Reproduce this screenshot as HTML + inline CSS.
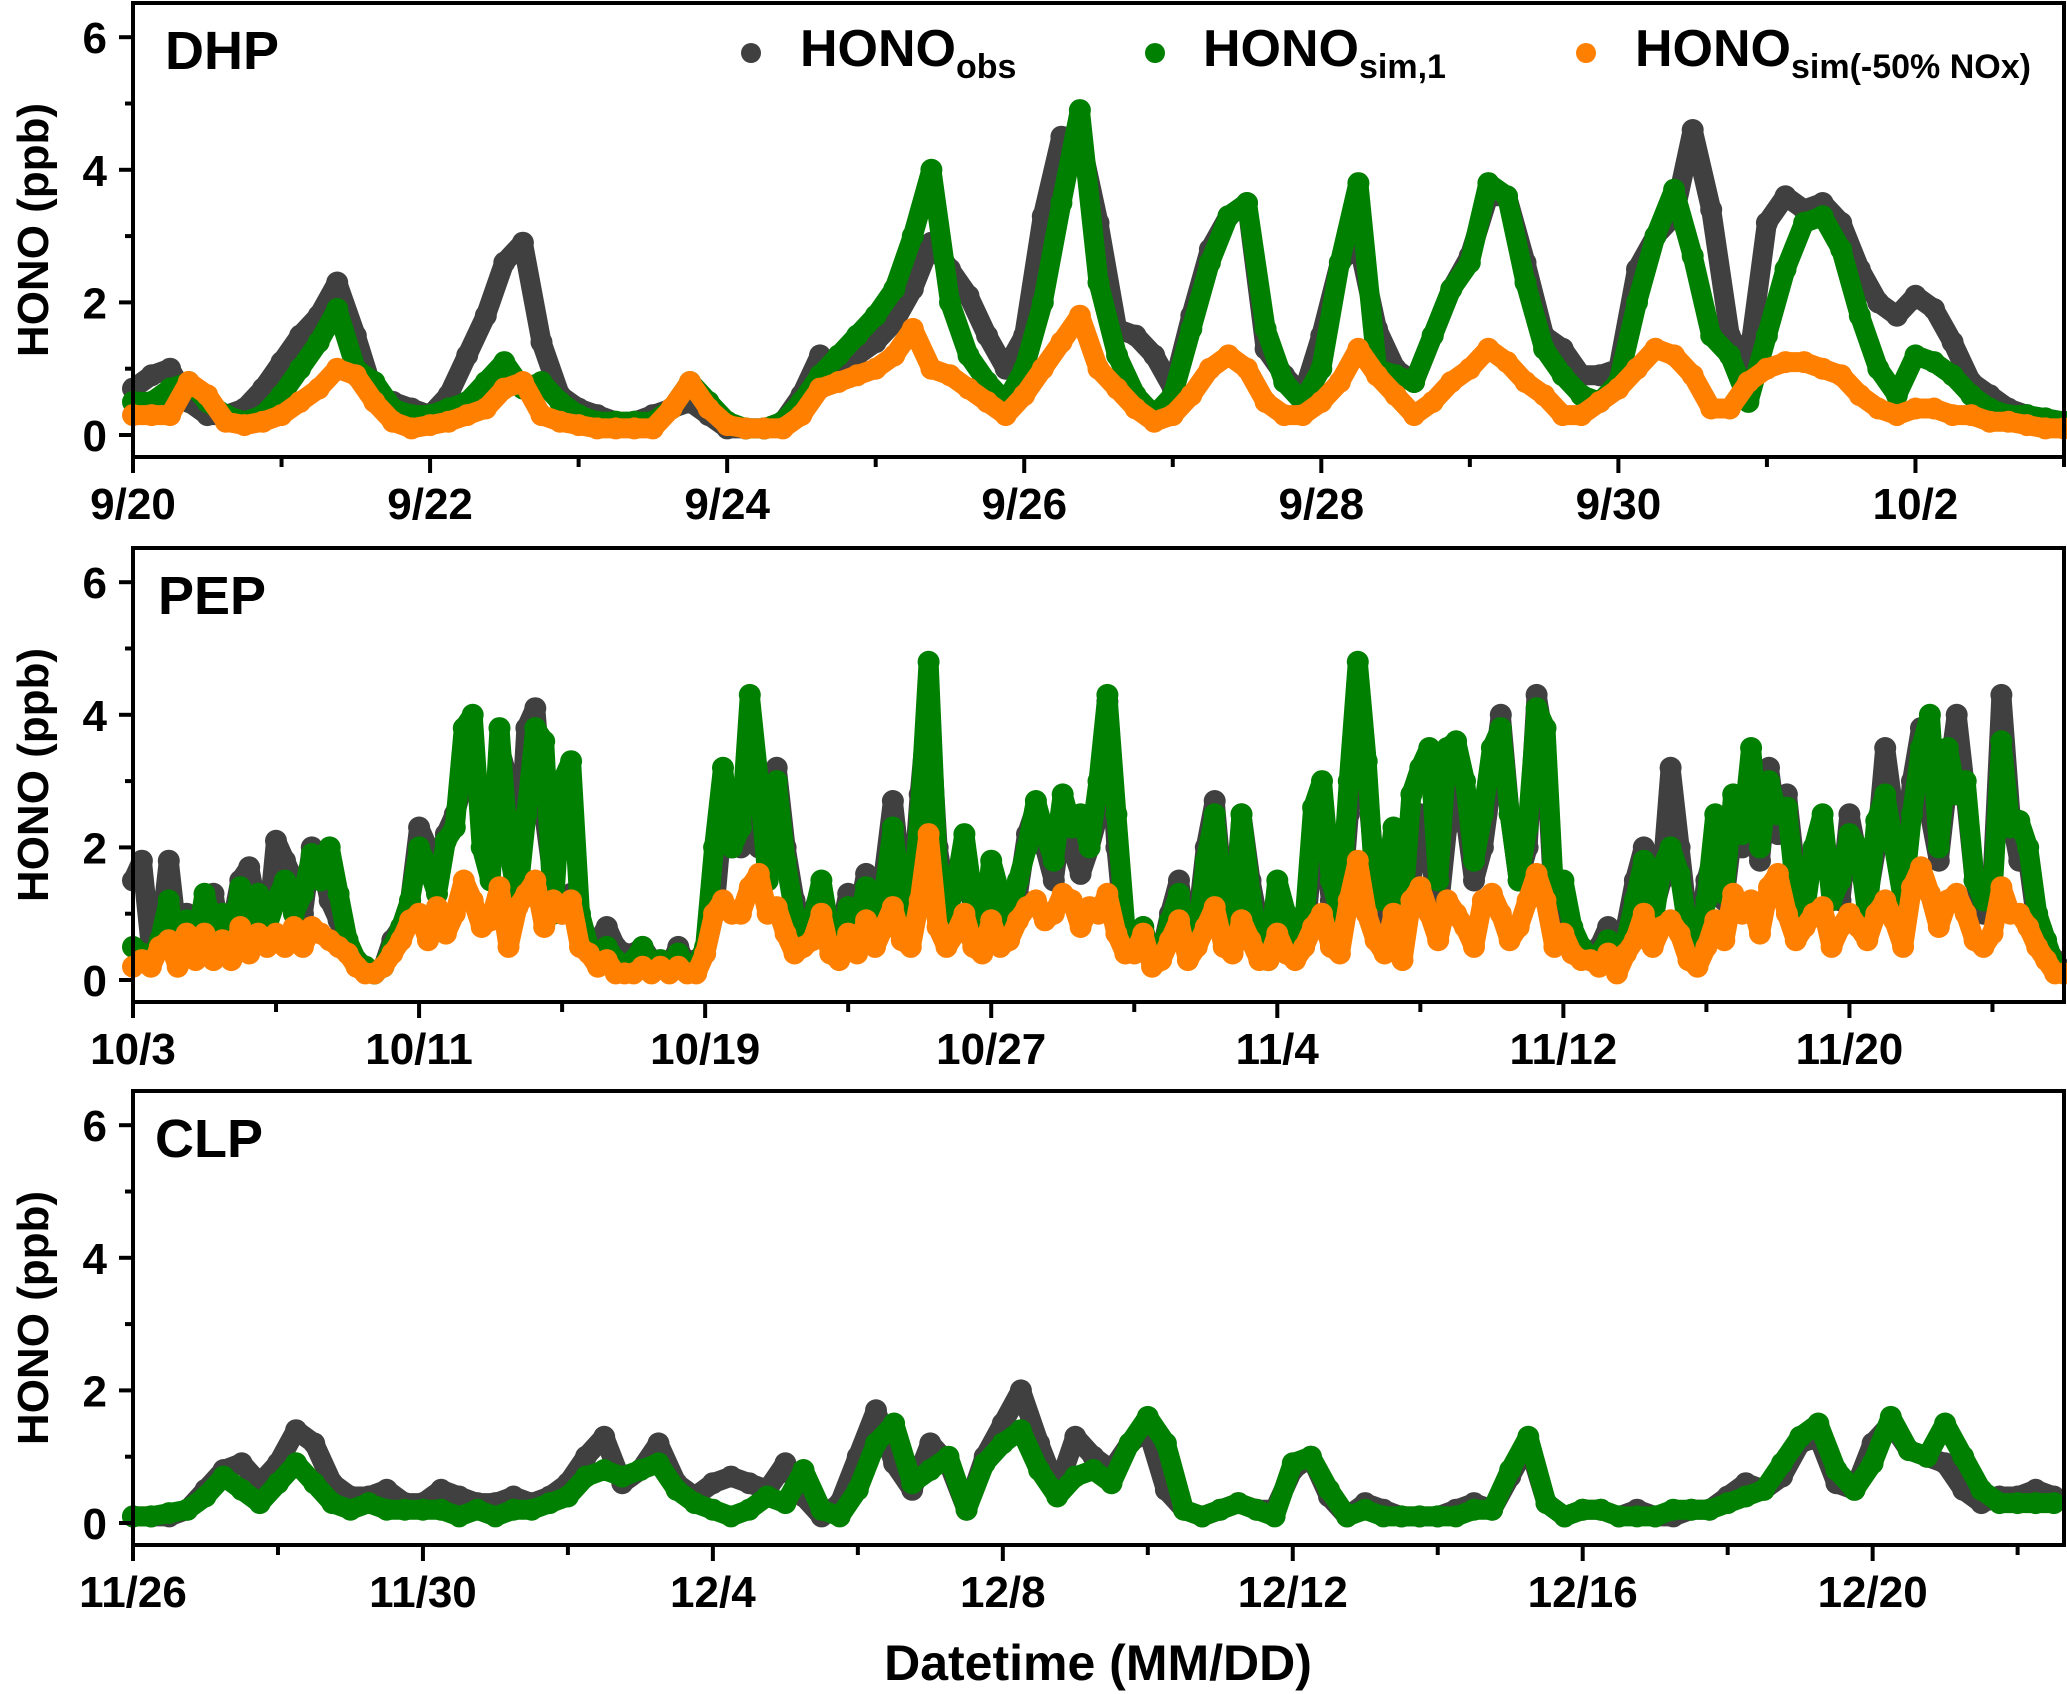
<!DOCTYPE html>
<html><head><meta charset="utf-8"><title>HONO time series</title>
<style>
html,body{margin:0;padding:0;background:#fff;}
svg{display:block;}
text{font-family:"Liberation Sans Narrow","Liberation Sans",sans-serif;font-weight:bold;fill:#000;}
</style></head>
<body>
<svg id="chart" width="2067" height="1694" viewBox="0 0 2067 1694" xmlns="http://www.w3.org/2000/svg">
<g id="panels"></g>
<text x="1098" y="1680" font-size="50" text-anchor="middle">Datetime (MM/DD)</text>
<g>
  <circle cx="751" cy="53" r="10" fill="#404040"/>
  <text x="800" y="66" font-size="52">HONO<tspan font-size="34" dy="12">obs</tspan></text>
  <circle cx="1155" cy="53" r="10" fill="#008000"/>
  <text x="1203" y="66" font-size="52">HONO<tspan font-size="34" dy="12">sim,1</tspan></text>
  <circle cx="1586" cy="53" r="10" fill="#ff8000"/>
  <text x="1635" y="66" font-size="52">HONO<tspan font-size="34" dy="12">sim(-50% NOx)</tspan></text>
</g>
</svg>
<script>
// ---- DHP (3-hourly, from 9/20 00:00) ----
const dhpObs=[0.7,0.9,1.0,0.5,0.3,0.3,0.4,0.7, 1.1,1.5,1.8,2.3,1.5,0.6,0.5,0.4, 0.3,0.6,1.2,1.8,2.6,2.9,1.4,0.6, 0.4,0.3,0.2,0.2,0.3,0.4,0.5,0.3, 0.1,0.1,0.1,0.2,0.6,1.2,1.0,1.2, 1.4,1.7,2.2,2.9,2.5,2.1,1.5,1.0, 1.5,3.3,4.5,4.5,3.2,1.6,1.5,1.2, 0.7,1.8,2.8,3.3,3.5,1.3,0.9,0.6, 1.5,2.6,2.9,1.6,1.0,0.8,1.5,2.2, 2.7,3.6,3.6,2.6,1.5,1.3,0.9,0.9, 1.0,2.5,3.0,3.3,4.6,3.4,1.5,1.1, 3.2,3.6,3.4,3.5,3.2,2.5,2.0,1.8, 2.1,1.9,1.4,0.8,0.6,0.4,0.3,0.25,0.2];
const dhpSim1=[0.5,0.5,0.7,0.8,0.5,0.3,0.2,0.3, 0.6,1.0,1.4,1.9,1.0,0.8,0.4,0.3, 0.3,0.4,0.5,0.8,1.1,0.7,0.8,0.5, 0.3,0.2,0.2,0.2,0.2,0.4,0.8,0.5, 0.2,0.1,0.1,0.2,0.5,0.9,1.2,1.5, 1.8,2.2,3.0,4.0,2.0,1.2,0.8,0.5, 1.0,2.0,3.5,4.9,2.3,1.2,0.6,0.3, 0.6,1.6,2.6,3.3,3.5,1.6,0.8,0.5, 1.0,2.6,3.8,1.0,0.9,0.8,1.5,2.2, 2.6,3.8,3.6,2.3,1.3,0.9,0.6,0.5, 0.8,2.0,3.0,3.7,2.7,1.5,1.2,0.5, 1.5,2.5,3.2,3.3,2.8,1.8,1.0,0.6, 1.2,1.1,0.9,0.6,0.4,0.3,0.3,0.25,0.2];
const dhpSim50=[0.3,0.3,0.3,0.8,0.6,0.2,0.15,0.2, 0.3,0.5,0.7,1.0,0.9,0.5,0.2,0.1, 0.15,0.2,0.3,0.4,0.7,0.8,0.3,0.2, 0.15,0.1,0.1,0.1,0.1,0.4,0.8,0.4, 0.15,0.1,0.1,0.1,0.3,0.7,0.8,0.9, 1.0,1.2,1.6,1.0,0.9,0.7,0.5,0.3, 0.6,1.0,1.4,1.8,1.0,0.7,0.4,0.2, 0.3,0.6,1.0,1.2,1.0,0.5,0.3,0.3, 0.5,0.8,1.3,0.9,0.6,0.3,0.5,0.8, 1.0,1.3,1.1,0.8,0.6,0.3,0.3,0.5, 0.7,1.0,1.3,1.2,0.9,0.4,0.4,0.8, 1.0,1.1,1.1,1.0,0.9,0.6,0.4,0.3, 0.4,0.4,0.3,0.3,0.2,0.2,0.15,0.1,0.1];
const dhpTicks=["9/20","9/22","9/24","9/26","9/28","9/30","10/2"];

// ---- PEP (6-hourly, from 10/3 00:00) ----
const pepObs=[1.5,1.8,0.5,0.6, 1.8,0.6,1.0,0.4, 1.0,1.3,0.5,0.8, 1.5,1.7,1.0,0.7, 2.1,1.8,1.5,1.0, 2.0,1.8,1.2,0.9, 0.5,0.3,0.2,0.1, 0.2,0.6,0.8,1.2, 2.3,2.0,1.5,2.2, 2.5,3.0,3.5,2.5, 2.0,3.5,3.0,1.5, 3.8,4.1,2.5,1.5, 1.0,1.3,0.7,0.5, 0.6,0.8,0.5,0.4, 0.4,0.5,0.3,0.3, 0.2,0.5,0.2,0.3, 0.4,1.0,2.5,2.0, 2.0,2.8,2.0,2.5, 3.2,2.0,1.2,0.8, 1.0,1.4,0.8,0.6, 1.3,0.9,1.6,0.8, 1.6,2.7,1.5,1.0, 2.8,4.3,2.0,1.2, 1.5,2.0,1.0,0.8, 1.5,1.2,0.8,1.3, 2.2,2.6,2.0,1.5, 2.5,2.0,1.6,2.0, 2.5,4.2,2.0,0.6, 0.6,0.8,0.3,0.4, 1.0,1.5,0.6,0.8, 2.0,2.7,1.2,0.8, 2.5,1.5,0.8,0.4, 1.2,0.8,0.4,0.5, 2.0,2.3,1.2,0.8, 2.5,4.5,3.0,1.5, 1.0,1.3,0.8,1.5, 2.5,2.0,1.0,2.3, 3.5,2.5,1.5,2.0, 3.0,4.0,2.5,1.5, 2.0,4.3,3.5,1.0, 0.8,0.5,0.4,0.3, 0.5,0.8,0.3,0.8, 1.5,2.0,1.0,1.5, 3.2,2.0,0.8,0.5, 1.5,2.0,1.2,2.3, 2.0,2.5,1.8,3.2, 2.2,2.8,1.6,1.3, 1.8,2.3,1.5,1.2, 2.5,1.8,1.2,2.0, 3.5,2.5,1.5,3.0, 3.8,2.5,1.8,3.0, 4.0,2.8,1.5,1.0, 1.5,4.3,2.5,1.8, 1.8,0.8,0.5,0.3,0.1];
const pepSim1=[0.5,0.4,0.3,0.6, 1.2,0.4,0.9,0.5, 1.3,0.8,1.0,0.6, 1.4,0.9,1.3,0.8, 1.2,1.5,1.0,1.3, 1.9,1.5,2.0,1.3, 0.6,0.3,0.2,0.1, 0.2,0.5,0.8,1.2, 2.0,1.7,1.3,2.1, 2.3,3.8,4.0,2.0, 1.5,3.8,2.0,1.2, 2.5,3.8,3.6,1.0, 3.0,3.3,1.0,0.5, 0.3,0.5,0.3,0.2, 0.3,0.5,0.2,0.3, 0.2,0.4,0.2,0.2, 0.5,2.0,3.2,2.0, 2.3,4.3,3.0,1.5, 3.0,1.8,1.0,0.6, 0.9,1.5,0.7,0.5, 1.1,0.8,1.4,0.6, 1.3,2.3,1.2,0.9, 2.5,4.8,1.7,1.0, 1.4,2.2,1.2,0.6, 1.8,1.3,0.9,1.5, 2.0,2.7,2.2,1.8, 2.8,2.3,2.5,2.0, 3.0,4.3,2.5,0.8, 0.5,0.8,0.3,0.4, 0.9,1.3,0.5,0.6, 1.8,2.5,1.0,0.6, 2.5,1.3,0.5,0.3, 1.5,1.0,0.5,0.8, 2.6,3.0,1.5,1.0, 3.0,4.8,3.3,1.2, 1.2,2.3,1.0,2.8, 3.2,3.5,1.5,3.5, 3.6,3.0,1.8,2.5, 3.5,3.8,2.5,1.5, 2.3,4.1,3.8,1.2, 1.5,0.8,0.5,0.3, 0.4,0.6,0.3,0.6, 1.2,1.8,0.8,1.7, 2.0,1.6,0.7,0.4, 1.2,2.5,1.3,2.8, 2.2,3.5,2.0,3.0, 2.5,2.6,1.3,1.0, 2.0,2.5,1.2,1.5, 2.2,2.0,1.0,2.4, 2.8,2.0,1.2,2.5, 3.5,4.0,2.0,3.5, 2.8,3.0,1.5,1.2, 1.3,3.6,2.3,2.4, 2.0,1.0,0.6,0.2,0.1];
const pepSim50=[0.2,0.3,0.2,0.5, 0.6,0.2,0.7,0.3, 0.7,0.3,0.6,0.3, 0.8,0.4,0.7,0.5, 0.7,0.5,0.8,0.5, 0.8,0.7,0.6,0.5, 0.4,0.2,0.1,0.1, 0.2,0.4,0.6,0.9, 1.0,0.6,1.1,0.7, 1.0,1.5,1.2,0.8, 0.9,1.4,0.5,1.1, 1.3,1.5,0.8,1.2, 1.0,1.2,0.5,0.4, 0.2,0.3,0.1,0.1, 0.1,0.2,0.1,0.2, 0.1,0.2,0.1,0.1, 0.4,1.0,1.2,1.0, 1.0,1.4,1.6,1.0, 1.1,0.7,0.4,0.5, 0.6,1.0,0.4,0.3, 0.7,0.4,0.9,0.5, 0.8,1.1,0.6,0.5, 1.2,2.2,0.8,0.5, 0.7,1.0,0.5,0.4, 0.9,0.5,0.6,0.9, 1.1,1.2,0.9,1.0, 1.3,1.2,0.8,1.1, 1.0,1.3,0.7,0.4, 0.4,0.7,0.2,0.3, 0.6,0.9,0.3,0.5, 0.8,1.1,0.5,0.4, 0.9,0.6,0.3,0.3, 0.7,0.4,0.3,0.5, 0.8,1.0,0.5,0.4, 1.2,1.8,1.0,0.6, 0.4,1.0,0.3,1.2, 1.4,1.0,0.6,1.2, 1.0,0.8,0.5,1.2, 1.3,1.0,0.6,0.8, 1.2,1.6,1.2,0.5, 0.7,0.4,0.3,0.3, 0.2,0.4,0.1,0.4, 0.6,1.0,0.5,0.8, 0.9,0.7,0.3,0.2, 0.5,0.9,0.6,1.3, 1.0,1.2,0.7,1.4, 1.6,1.0,0.6,0.8, 1.0,1.1,0.5,0.8, 1.0,0.8,0.6,1.0, 1.2,0.9,0.5,1.4, 1.7,1.3,0.8,1.2, 1.3,1.0,0.6,0.5, 0.7,1.4,1.0,1.0, 0.8,0.5,0.3,0.1,0.1];
const pepTicks=["10/3","10/11","10/19","10/27","11/4","11/12","11/20"];

// ---- CLP (6-hourly, from 11/26 00:00) ----
const clpObs=[0.1,0.1,0.1,0.2, 0.5,0.8,0.9,0.6, 0.9,1.4,1.2,0.6, 0.4,0.4,0.5,0.3, 0.3,0.5,0.4,0.3, 0.3,0.4,0.3,0.4, 0.6,1.0,1.3,0.6, 0.8,1.2,0.6,0.4, 0.6,0.7,0.6,0.5, 0.9,0.4,0.1,0.3, 1.0,1.7,0.9,0.5, 1.2,0.9,0.2,1.0, 1.5,2.0,1.2,0.5, 1.3,1.0,0.8,1.2, 1.4,0.5,0.2,0.1, 0.2,0.3,0.2,0.2, 0.8,1.0,0.4,0.1, 0.3,0.2,0.1,0.1, 0.1,0.2,0.3,0.2, 0.7,1.2,0.3,0.1, 0.2,0.2,0.1,0.2, 0.1,0.1,0.2,0.2, 0.4,0.6,0.5,0.7, 1.2,1.3,0.6,0.5, 1.2,1.5,1.1,1.0, 0.9,0.5,0.3,0.4, 0.4,0.5,0.4];
const clpSim1=[0.1,0.1,0.15,0.2, 0.4,0.7,0.5,0.3, 0.6,0.9,0.6,0.3, 0.2,0.3,0.2,0.2, 0.2,0.2,0.1,0.2, 0.1,0.2,0.2,0.3, 0.4,0.7,0.8,0.7, 0.8,0.9,0.5,0.3, 0.2,0.1,0.2,0.4, 0.3,0.8,0.2,0.1, 0.5,1.2,1.5,0.6, 0.8,1.0,0.2,0.9, 1.2,1.4,0.8,0.4, 0.7,0.8,0.6,1.2, 1.6,1.2,0.2,0.1, 0.2,0.3,0.2,0.1, 0.9,1.0,0.5,0.1, 0.2,0.1,0.1,0.1, 0.1,0.1,0.2,0.2, 0.8,1.3,0.3,0.1, 0.2,0.2,0.1,0.1, 0.1,0.2,0.2,0.2, 0.3,0.4,0.5,0.9, 1.3,1.5,0.8,0.5, 0.9,1.6,1.1,1.0, 1.5,1.0,0.5,0.3, 0.3,0.3,0.3];
const clpTicks=["11/26","11/30","12/4","12/8","12/12","12/16","12/20"];

const yTicks=[0,2,4,6];

const NS="http://www.w3.org/2000/svg";
const L=133,R=2064;
function mk(tag,attrs,parent){const e=document.createElementNS(NS,tag);for(const k in attrs)e.setAttribute(k,attrs[k]);parent.appendChild(e);return e;}

function panel(cfg){
  const g=mk('g',{},document.getElementById('panels'));
  
  
  const y0=cfg.top+432, unit=66.3;
  const yS=v=>y0-v*unit;
  const xS=d=>L+(d/cfg.span)*(R-L);
  cfg.series.forEach(s=>{
    const sg=mk('g',{},g);
    
    
    const pts=s.data.map((v,i)=>xS(i*s.step).toFixed(1)+','+yS(v).toFixed(1)).join(' ');
    const pl=mk('polyline',{points:pts,fill:'none',stroke:s.color,'stroke-width':20,'stroke-linejoin':'round','stroke-linecap':'round'},sg);
    
    
    s.data.forEach((v,i)=>{
      const c=mk('circle',{cx:xS(i*s.step).toFixed(1),cy:yS(v).toFixed(1),r:11,fill:s.color},sg);
      
      
    });
  });
  const fr=mk('rect',{x:L,y:cfg.top,width:R-L,height:454,fill:'none',stroke:'#000','stroke-width':4},g);
  
  
  for(let v=0;v<=6;v++){
    const major=v%2===0;
    const t=mk('line',{x1:L,x2:L-(major?14:8),y1:yS(v),y2:yS(v),stroke:'#000','stroke-width':4},g);
    
    
  }
  yTicks.forEach(v=>{
    const t=mk('text',{x:L-26,y:yS(v)+16,'font-size':44,'text-anchor':'end'},g);
    t.textContent=String(v);
    
    
  });
  const bot=cfg.top+454;
  for(let d=0;d<=cfg.span+1e-6;d+=cfg.minor){
    const major=Math.round(d/cfg.minor)%2===0;
    const t=mk('line',{x1:xS(d),x2:xS(d),y1:bot,y2:bot+(major?16:10),stroke:'#000','stroke-width':4},g);
    
    
  }
  cfg.ticks.forEach((lab,i)=>{
    const t=mk('text',{x:xS(i*cfg.minor*2),y:bot+62,'font-size':44,'text-anchor':'middle'},g);
    t.textContent=lab;
    
    
  });
  const yt=mk('text',{x:0,y:0,'font-size':44,'text-anchor':'middle',transform:`translate(48,${cfg.top+227}) rotate(-90)`},g);
  yt.textContent='HONO (ppb)';
  
  
  const st=mk('text',{x:cfg.labelX,y:cfg.top+66,'font-size':54},g);
  st.textContent=cfg.label;
  
  
}

panel({name:'dhp',label:'DHP',labelX:165,top:3,span:13,minor:1,ticks:dhpTicks,
  series:[{key:'obs',data:dhpObs,step:0.125,color:'#404040'},{key:'sim1',data:dhpSim1,step:0.125,color:'#008000'},{key:'sim50',data:dhpSim50,step:0.125,color:'#ff8000'}]});
panel({name:'pep',label:'PEP',labelX:158,top:548,span:54,minor:4,ticks:pepTicks,
  series:[{key:'obs',data:pepObs,step:0.25,color:'#404040'},{key:'sim1',data:pepSim1,step:0.25,color:'#008000'},{key:'sim50',data:pepSim50,step:0.25,color:'#ff8000'}]});
panel({name:'clp',label:'CLP',labelX:155,top:1091,span:26.64,minor:2,ticks:clpTicks,
  series:[{key:'obs',data:clpObs,step:0.25,color:'#404040'},{key:'sim1',data:clpSim1,step:0.25,color:'#008000'}]});
</script>
</body></html>
